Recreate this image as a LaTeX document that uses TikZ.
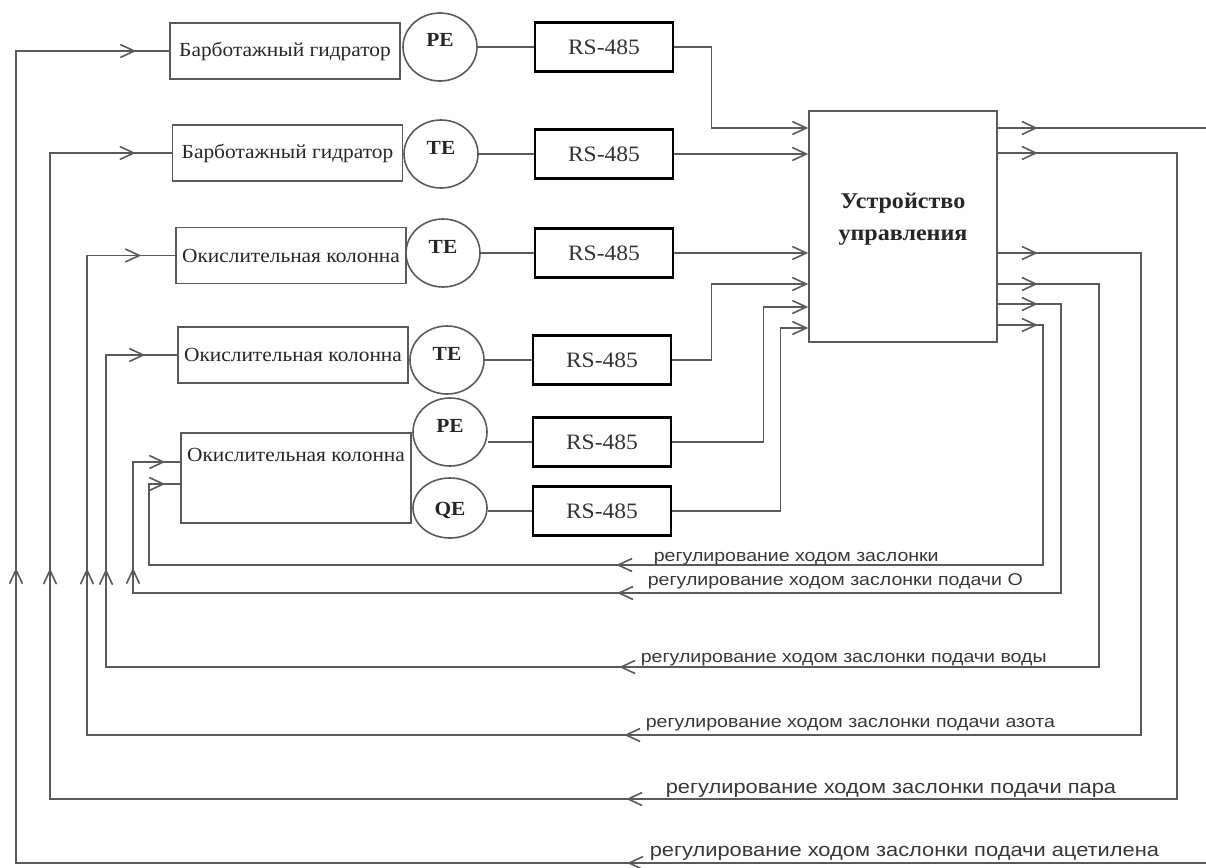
\documentclass[tikz,border=0pt]{standalone}
\usepackage{fontspec}
\setmainfont{Liberation Serif}
\newfontfamily\boxfont[FakeStretch=1.07]{Liberation Serif}
\newfontfamily\labelfont[FakeStretch=1.15]{Liberation Sans}
\usepackage{xcolor}
\usetikzlibrary{arrows.meta}
\usetikzlibrary{decorations.markings}
\usetikzlibrary{shapes.geometric}

\definecolor{linegray}{RGB}{90,90,90}
\definecolor{textgray}{RGB}{55,55,55}

\tikzset{arrowmark/.style={postaction={decorate,decoration={markings,mark=at position #1 with {\arrow{>}}}}}}

\begin{document}
\begin{tikzpicture}[x=1pt,y=-1pt,line width=1.6pt,>={Straight Barb[length=14pt,width=13pt]}]

	\useasboundingbox (0,0) rectangle (1206,867);

	\tikzstyle{apparat}=[draw=linegray,rectangle,inner sep=0pt,minimum width=230pt,minimum height=56pt,text=black!85,font=\boxfont\fontsize{20pt}{24pt}\selectfont]
	\tikzstyle{sensor}=[draw=linegray,ellipse,inner sep=0pt,minimum width=74pt,minimum height=68pt,text height=14pt,text depth=14pt,text=black!85,font=\boxfont\bfseries\fontsize{20pt}{24pt}\selectfont]
	\tikzstyle{rsbox}=[draw=black,line width=2.6pt,rectangle,inner sep=0pt,minimum width=138pt,minimum height=49pt,text=black!80,font=\boxfont\fontsize{22pt}{26pt}\selectfont]
	\tikzstyle{line}=[draw=linegray]
	\tikzstyle{fb}=[draw=linegray]
	\tikzstyle{lbl}=[anchor=base west,inner sep=0pt,text=textgray,font=\labelfont\fontsize{17pt}{20pt}\selectfont]
	\tikzstyle{lblbig}=[lbl,font=\labelfont\fontsize{19pt}{22pt}\selectfont]

	% apparatus
	\node[apparat] (gid1) at (285,51) {Барботажный гидратор};
	\node[apparat] (gid2) at (287.5,153) {Барботажный гидратор};
	\node[apparat] (kol1) at (291,255.5) {Окислительная колонна};
	\node[apparat] (kol2) at (293,355) {Окислительная колонна};
	\node[apparat,anchor=north,text height=29pt,text depth=61pt] (kol3) at (296,432) {Окислительная колонна};

	% sensors
	\node[sensor] (d1) at (440,47) {PE};
	\node[sensor] (d2) at (441,154) {TE};
	\node[sensor] (d3) at (443,253) {TE};
	\node[sensor] (d4) at (447,360) {TE};
	\node[sensor] (d5) at (450,432) {PE};
	\node[sensor,minimum height=60pt,text depth=0pt] (d6) at (450,508) {QE};

	% interfaces
	\node[rsbox] (rs1) at (604,47) {RS-485};
	\node[rsbox] (rs2) at (604,154) {RS-485};
	\node[rsbox] (rs3) at (604,253) {RS-485};
	\node[rsbox] (rs4) at (602,360) {RS-485};
	\node[rsbox] (rs5) at (602,442) {RS-485};
	\node[rsbox] (rs6) at (602,511) {RS-485};

	% control unit
	\node[draw=linegray,rectangle,inner sep=0pt,minimum width=188pt,minimum height=231pt] (ctrl) at (903,226.5) {};
	\node[align=center,text=black!85,font=\boxfont\bfseries\fontsize{22.5pt}{32pt}\selectfont] (ctrltxt) at ([yshift=7.5pt]ctrl.center) {Устройство\\управления};

	\coordinate (in1) at (ctrl.west |- 0,128);
	\coordinate (in2) at (ctrl.west |- 0,154);
	\coordinate (in3) at (ctrl.west |- 0,253);
	\coordinate (in4) at (ctrl.west |- 0,284);
	\coordinate (in5) at (ctrl.west |- 0,307);
	\coordinate (in6) at (ctrl.west |- 0,328);

	\coordinate (out1) at (ctrl.east |- 0,128);
	\coordinate (out2) at (ctrl.east |- 0,153);
	\coordinate (out3) at (ctrl.east |- 0,253);
	\coordinate (out4) at (ctrl.east |- 0,284);
	\coordinate (out5) at (ctrl.east |- 0,304);
	\coordinate (out6) at (ctrl.east |- 0,325);

	% corners of the feedback lines
	\coordinate (a1) at (1208,863);
	\coordinate (b1) at (16,863);
	\coordinate (a2) at (1177,799);
	\coordinate (b2) at (50,799);
	\coordinate (a3) at (1141,735);
	\coordinate (b3) at (87,735);
	\coordinate (a4) at (1099,667);
	\coordinate (b4) at (106,667);
	\coordinate (a5) at (1061,593);
	\coordinate (b5) at (133,593);
	\coordinate (a6) at (1043,565);
	\coordinate (b6) at (149,565);
	\coordinate (p5) at ([yshift=-30pt]kol3.north west);
	\coordinate (p6) at ([yshift=-52pt]kol3.north west);

	% sensor lines
	\draw[line] (d1) -- (rs1);
	\draw[line] (d2) -- (rs2);
	\draw[line] (d3) -- (rs3);
	\draw[line] (d4) -- (rs4);
	\draw[line] (rs5.west -| d5.east) -- (rs5.west);
	\draw[line] (rs6.west -| d6.east) -- (rs6.west);

	\draw[line,->] (rs1.east) -- ++(37,0) |- (in1);
	\draw[line,->] (rs2.east) -- (in2);
	\draw[line,->] (rs3.east) -- (in3);
	\draw[line,->] (rs4.east) -- ++(39,0) |- (in4);
	\draw[line,->] (rs5.east) -- ++(91,0) |- (in5);
	\draw[line,->] (rs6.east) -- ++(108,0) |- (in6);

	% feedback
	\draw[fb,arrowmark=40pt,arrowmark=1526pt,arrowmark=-670pt,arrowmark=-33pt] (out1) -| (a1) -- (b1) |- (gid1.west);
	\draw[fb,arrowmark=40pt,arrowmark=1376pt,arrowmark=-537pt,arrowmark=-36pt] (out2) -| (a2) -- (b2) |- (gid2.west);
	\draw[fb,arrowmark=40pt,arrowmark=1142pt,arrowmark=-401pt,arrowmark=-34pt] (out3) -| (a3) -- (b3) |- (kol1.west);
	\draw[fb,arrowmark=40pt,arrowmark=964pt,arrowmark=-285pt,arrowmark=-32pt] (out4) -| (a4) -- (b4) |- (kol2.west);
	\draw[fb,arrowmark=40pt,arrowmark=796pt,arrowmark=-153pt,arrowmark=-15pt] (out5) -| (a5) -- (b5) |- (p5);
	\draw[fb,arrowmark=40pt,arrowmark=712pt,arrowmark=-15pt] (out6) -| (a6) -- (b6) |- (p6);

	\node[lbl] (t6) at (653,561) {регулирование ходом заслонки};
	\node[lbl] (t5) at (647,585) {регулирование ходом заслонки подачи О};
	\node[lbl] (t4) at (640,662) {регулирование ходом заслонки подачи воды};
	\node[lbl] (t3) at (645,727) {регулирование ходом заслонки подачи азота};
	\node[lblbig] (t2) at (665,793) {регулирование ходом заслонки подачи пара};
	\node[lblbig] (t1) at (649,856) {регулирование ходом заслонки подачи ацетилена};

\end{tikzpicture}
\end{document}
